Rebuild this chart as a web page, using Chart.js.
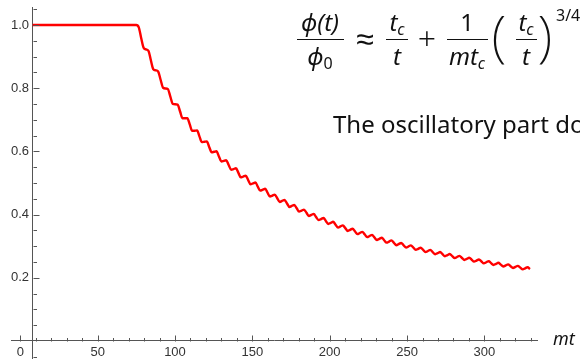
<!DOCTYPE html>
<html>
<head>
<meta charset="utf-8">
<script src="https://cdn.jsdelivr.net/npm/chart.js@4.4.1/dist/chart.umd.min.js"></script>
<style>
  html, body { margin: 0; padding: 0; background: #fff; }
  #wrap { position: relative; width: 580px; height: 360px; overflow: hidden; }
  #chart { position: absolute; left: 0; top: 0; }
  .m { position: absolute; font-family: 'Noto Sans', sans-serif; font-size: 24px; line-height: 1; color: #111; white-space: nowrap; transform: translateX(-50%); }
  .l { position: absolute; font-family: 'Noto Sans', sans-serif; line-height: 1; color: #111; white-space: nowrap; }
  .i { font-style: italic; }
  .s { font-size: 16px; font-style: italic; position: relative; top: 4px; }
  .s0 { font-size: 16px; font-style: normal; position: relative; top: 4px; }
  .bar { position: absolute; height: 1.4px; background: #111; }
  .op { font-size: 32px; font-weight: 300; }
  .pa { font-size: 56px; font-weight: 200; }
</style>
</head>
<body>
<div id="wrap">
  <canvas id="chart" width="580" height="360"></canvas>

  <!-- phi(t)/phi0 -->
  <span class="m i" style="left:320px; top:10px;">ϕ(t)</span>
  <div class="bar" style="left:297px; width:47px; top:39px;"></div>
  <span class="m i" style="left:320px; top:44px;">ϕ<span class="s0">0</span></span>
  <span class="m op" style="left:365px; top:22px;">≈</span>
  <!-- t_c / t -->
  <span class="m i" style="left:397px; top:10px;">t<span class="s">c</span></span>
  <div class="bar" style="left:386px; width:22px; top:39px;"></div>
  <span class="m i" style="left:397px; top:44px;">t</span>
  <span class="m op" style="left:427px; top:22px;">+</span>
  <!-- 1 / (m t_c) -->
  <span class="m" style="left:467px; top:10px;">1</span>
  <div class="bar" style="left:447px; width:41px; top:39px;"></div>
  <span class="m i" style="left:467px; top:44px;">mt<span class="s">c</span></span>
  <!-- (t_c / t)^(3/4) -->
  <span class="m pa" style="left:499px; top:6px;">(</span>
  <span class="m i" style="left:526px; top:10px;">t<span class="s">c</span></span>
  <div class="bar" style="left:516px; width:21px; top:39px;"></div>
  <span class="m i" style="left:526px; top:44px;">t</span>
  <span class="m pa" style="left:545px; top:6px;">)</span>
  <span class="l" style="left:556px; top:7px; font-size:16px;">3/4</span>

  <span class="l" style="left:333px; top:112px; font-size:24px;">The oscillatory part does</span>
  <span class="l i" style="left:553px; top:329px; font-size:18px;">mt</span>
</div>

<script>
// values: mt on the x axis, phi(t)/phi0 on the y axis
const mtValues = [
  8.0, 75.0, 76.6, 78.1, 79.7, 81.3, 82.9, 84.4, 86.0, 87.6, 89.1,
  90.7, 92.3, 93.9, 95.4, 97.0, 98.6, 100.1, 101.7, 103.3, 104.8,
  106.4, 108.0, 109.6, 111.1, 112.7, 114.3, 115.8, 117.4, 119.0, 120.6,
  122.1, 123.7, 125.3, 126.8, 128.4, 130.0, 131.5, 133.1, 134.7, 136.3,
  137.8, 139.4, 141.0, 142.5, 144.1, 145.7, 147.3, 148.8, 150.4, 152.0,
  153.5, 155.1, 156.7, 158.3, 159.8, 161.4, 163.0, 164.5, 166.1, 167.7,
  169.2, 170.8, 172.4, 174.0, 175.5, 177.1, 178.7, 180.2, 181.8, 183.4,
  185.0, 186.5, 188.1, 189.7, 191.2, 192.8, 194.4, 196.0, 197.5, 199.1,
  200.7, 202.2, 203.8, 205.4, 206.9, 208.5, 210.1, 211.7, 213.2, 214.8,
  216.4, 217.9, 219.5, 221.1, 222.7, 224.2, 225.8, 227.4, 228.9, 230.5,
  232.1, 233.7, 235.2, 236.8, 238.4, 239.9, 241.5, 243.1, 244.6, 246.2,
  247.8, 249.4, 250.9, 252.5, 254.1, 255.6, 257.2, 258.8, 260.4, 261.9,
  263.5, 265.1, 266.6, 268.2, 269.8, 271.4, 272.9, 274.5, 276.1, 277.6,
  279.2, 280.8, 282.3, 283.9, 285.5, 287.1, 288.6, 290.2, 291.8, 293.3,
  294.9, 296.5, 298.1, 299.6, 301.2, 302.8, 304.3, 305.9, 307.5, 309.0,
  310.6, 312.2, 313.8, 315.3, 316.9, 318.5, 320.0, 321.6, 323.2, 324.8,
  326.3, 327.9, 329.5
];

const phiValues = [
  1.0000, 1.0000, 0.9926, 0.9598, 0.9282, 0.9227, 0.9176, 0.8884, 0.8601, 0.8565, 0.8531,
  0.8268, 0.8013, 0.7991, 0.7972, 0.7733, 0.7501, 0.7490, 0.7480, 0.7262, 0.7050,
  0.7048, 0.7047, 0.6846, 0.6650, 0.6655, 0.6661, 0.6474, 0.6293, 0.6304, 0.6315,
  0.6141, 0.5972, 0.5987, 0.6003, 0.5841, 0.5682, 0.5701, 0.5721, 0.5568, 0.5419,
  0.5441, 0.5464, 0.5320, 0.5179, 0.5204, 0.5229, 0.5093, 0.4960, 0.4987, 0.5014,
  0.4885, 0.4758, 0.4787, 0.4816, 0.4693, 0.4572, 0.4602, 0.4632, 0.4515, 0.4400,
  0.4431, 0.4463, 0.4351, 0.4240, 0.4273, 0.4305, 0.4198, 0.4092, 0.4125, 0.4158,
  0.4055, 0.3954, 0.3987, 0.4021, 0.3922, 0.3824, 0.3858, 0.3893, 0.3797, 0.3703,
  0.3738, 0.3772, 0.3680, 0.3589, 0.3624, 0.3659, 0.3570, 0.3482, 0.3517, 0.3552,
  0.3466, 0.3381, 0.3417, 0.3452, 0.3368, 0.3286, 0.3322, 0.3357, 0.3276, 0.3196,
  0.3232, 0.3267, 0.3188, 0.3111, 0.3146, 0.3182, 0.3106, 0.3030, 0.3066, 0.3101,
  0.3027, 0.2954, 0.2989, 0.3024, 0.2952, 0.2881, 0.2916, 0.2951, 0.2881, 0.2811,
  0.2846, 0.2881, 0.2813, 0.2745, 0.2780, 0.2815, 0.2748, 0.2682, 0.2717, 0.2751,
  0.2686, 0.2622, 0.2656, 0.2691, 0.2627, 0.2564, 0.2598, 0.2633, 0.2571, 0.2509,
  0.2543, 0.2577, 0.2516, 0.2456, 0.2490, 0.2524, 0.2464, 0.2405, 0.2439, 0.2473,
  0.2415, 0.2357, 0.2390, 0.2424, 0.2367, 0.2310, 0.2343, 0.2377, 0.2321, 0.2265,
  0.2298, 0.2332, 0.2276
];

// tick labels
const xTickValues = [0, 50, 100, 150, 200, 250, 300];
const yTickValues = [0.2, 0.4, 0.6, 0.8, 1.0];

const axisColor = '#555';
const labelColor = '#333';
const yAxisAt = 8;

// Mathematica style ticks pointing into the plot
const inwardTicks = {
  id: 'inwardTicks',
  afterDraw(chart) {
    const { ctx, scales: { x, y } } = chart;
    const x0 = Math.round(x.getPixelForValue(yAxisAt)) + 0.5;
    const y0 = Math.round(y.getPixelForValue(0)) + 0.5;
    ctx.save();
    ctx.strokeStyle = axisColor;
    ctx.lineWidth = 1;
    ctx.beginPath();
    for (let v = 0; v <= 330; v += 10) {
      const px = Math.round(x.getPixelForValue(v)) + 0.5;
      const len = v % 50 === 0 ? 6 : 3.5;
      ctx.moveTo(px, y0);
      ctx.lineTo(px, y0 - len);
    }
    for (let i = -1; i <= 21; i++) {
      if (i === 0) continue;
      const py = Math.round(y.getPixelForValue(i * 0.05)) + 0.5;
      const len = i % 4 === 0 ? 6 : 3.5;
      ctx.moveTo(x0, py);
      ctx.lineTo(x0 + len, py);
    }
    ctx.stroke();
    ctx.restore();
  }
};

const tickFont = { family: "'Liberation Sans', Arial, sans-serif", size: 13 };

new Chart(document.getElementById('chart'), {
  type: 'line',
  data: {
    datasets: [{
      data: mtValues.map((v, i) => ({ x: v, y: phiValues[i] })),
      borderColor: '#ff0000',
      borderWidth: 2.4,
      pointRadius: 0,
      cubicInterpolationMode: 'monotone',
      fill: false
    }]
  },
  options: {
    responsive: false,
    animation: false,
    layout: { padding: { left: 11, right: 43, top: 7, bottom: 2 } },
    plugins: { legend: { display: false }, tooltip: { enabled: false } },
    scales: {
      x: {
        type: 'linear',
        min: -6,
        max: 334,
        position: { y: 0 },
        grid: { display: false, drawTicks: false },
        border: { display: true, color: axisColor, width: 1 },
        afterBuildTicks: (axis) => { axis.ticks = xTickValues.map(v => ({ value: v })); },
        afterFit: (axis) => { axis.paddingLeft = 0; axis.paddingRight = 0; },
        ticks: { padding: 4, color: labelColor, font: tickFont, maxRotation: 0, autoSkip: false }
      },
      y: {
        type: 'linear',
        min: -0.054,
        max: 1.057,
        position: { x: yAxisAt },
        grid: { display: false, drawTicks: false },
        border: { display: true, color: axisColor, width: 1 },
        afterBuildTicks: (axis) => { axis.ticks = yTickValues.map(v => ({ value: v })); },
        afterFit: (axis) => { axis.paddingTop = 0; axis.paddingBottom = 0; },
        // object-positioned axes ignore ticks.padding, so a trailing space keeps labels off the line
        ticks: { color: labelColor, font: tickFont, callback: v => v.toFixed(1) + ' ' }
      }
    }
  },
  plugins: [inwardTicks]
});
</script>
</body>
</html>
